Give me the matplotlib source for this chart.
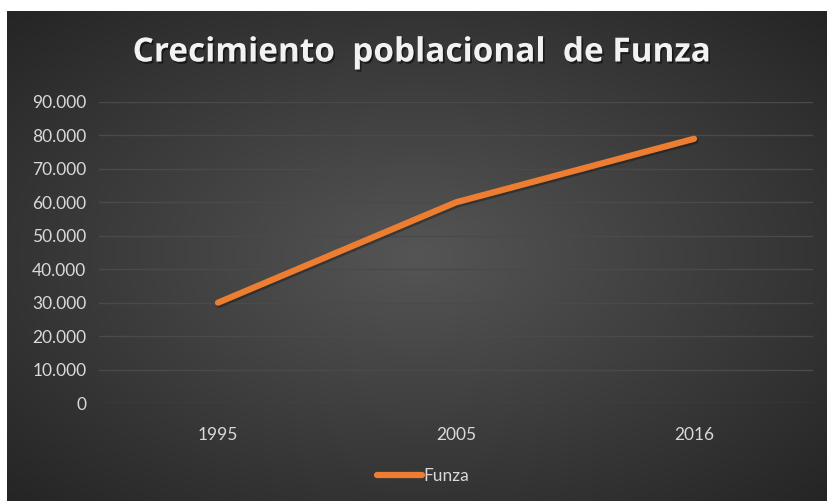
import numpy as np
import matplotlib
matplotlib.use("Agg")
import matplotlib.pyplot as plt
import matplotlib.patheffects as pe
from matplotlib.ticker import FuncFormatter

years = ["1995", "2005", "2016"]
population = [30000, 60000, 79000]
y_ticks = [0, 10000, 20000, 30000, 40000, 50000, 60000, 70000, 80000, 90000]
series_name = "Funza"
title = "Crecimiento  poblacional  de Funza"

W, H = 828, 501
fig = plt.figure(figsize=(W / 100, H / 100), dpi=100)
fig.patch.set_facecolor("white")

# background with radial gradient
bg = fig.add_axes([7 / W, 0, (W - 7) / W, (H - 11) / H])
bg.set_axis_off()
nx, ny = 400, 240
xx, yy = np.meshgrid(np.linspace(-1, 1, nx), np.linspace(-1, 1, ny))
r = np.sqrt(xx ** 2 + yy ** 2) / np.sqrt(2)
inner = np.array([0x55, 0x55, 0x55]) / 255
outer = np.array([0x25, 0x25, 0x25]) / 255
img = inner[None, None, :] * (1 - r[..., None]) + outer[None, None, :] * r[..., None]
bg.imshow(img, aspect="auto", extent=[0, 1, 0, 1], interpolation="bilinear")

left, right = 99 / W, 813 / W
bottom, top = 1 - 403 / H, 1 - 102 / H
ax = fig.add_axes([left, bottom, right - left, top - bottom])
ax.patch.set_alpha(0)
x = np.arange(len(years))
shadow = [pe.SimpleLineShadow(offset=(1.0, -1.5), alpha=0.3, shadow_color="black"), pe.Normal()]
ax.plot(x, population, color="#ED7D31", lw=4.5, solid_capstyle="round",
        solid_joinstyle="round", path_effects=shadow, zorder=3)
ax.set_xlim(-0.5, len(years) - 0.5)
ax.set_ylim(0, 90000)
ax.set_yticks(y_ticks)
ax.yaxis.set_major_formatter(FuncFormatter(lambda v, p: f"{int(v):,}".replace(",", ".")))
ax.set_xticks(x)
ax.set_xticklabels(years)
ax.grid(axis="y", color="#4a4a4a", lw=1)
ax.set_axisbelow(True)
for s in ax.spines.values():
    s.set_visible(False)
ax.tick_params(length=0, colors="#d9d9d9", labelsize=12.5, pad=9)
ax.tick_params(axis="x", pad=17)
for lab in ax.get_xticklabels() + ax.get_yticklabels():
    lab.set_family("Lato")

fig.text(422 / W, 1 - 53 / H, title, ha="center", va="center", color="#f2f2f2",
         fontsize=24, fontweight="bold", family="Open Sans",
         path_effects=[pe.withSimplePatchShadow(offset=(1.2, -1.5), alpha=0.5, shadow_rgbFace="black")])

# legend
leg = fig.legend([plt.Line2D([], [], color="#ED7D31", lw=4.5, solid_capstyle="round")], [series_name],
                 loc="center", bbox_to_anchor=(423 / W, 1 - 476 / H), frameon=False,
                 handlelength=2.6, handletextpad=0.1, prop={"family": "Lato", "size": 12.5})
for t in leg.get_texts():
    t.set_color("#d9d9d9")

fig.savefig("out.png", dpi=100)
